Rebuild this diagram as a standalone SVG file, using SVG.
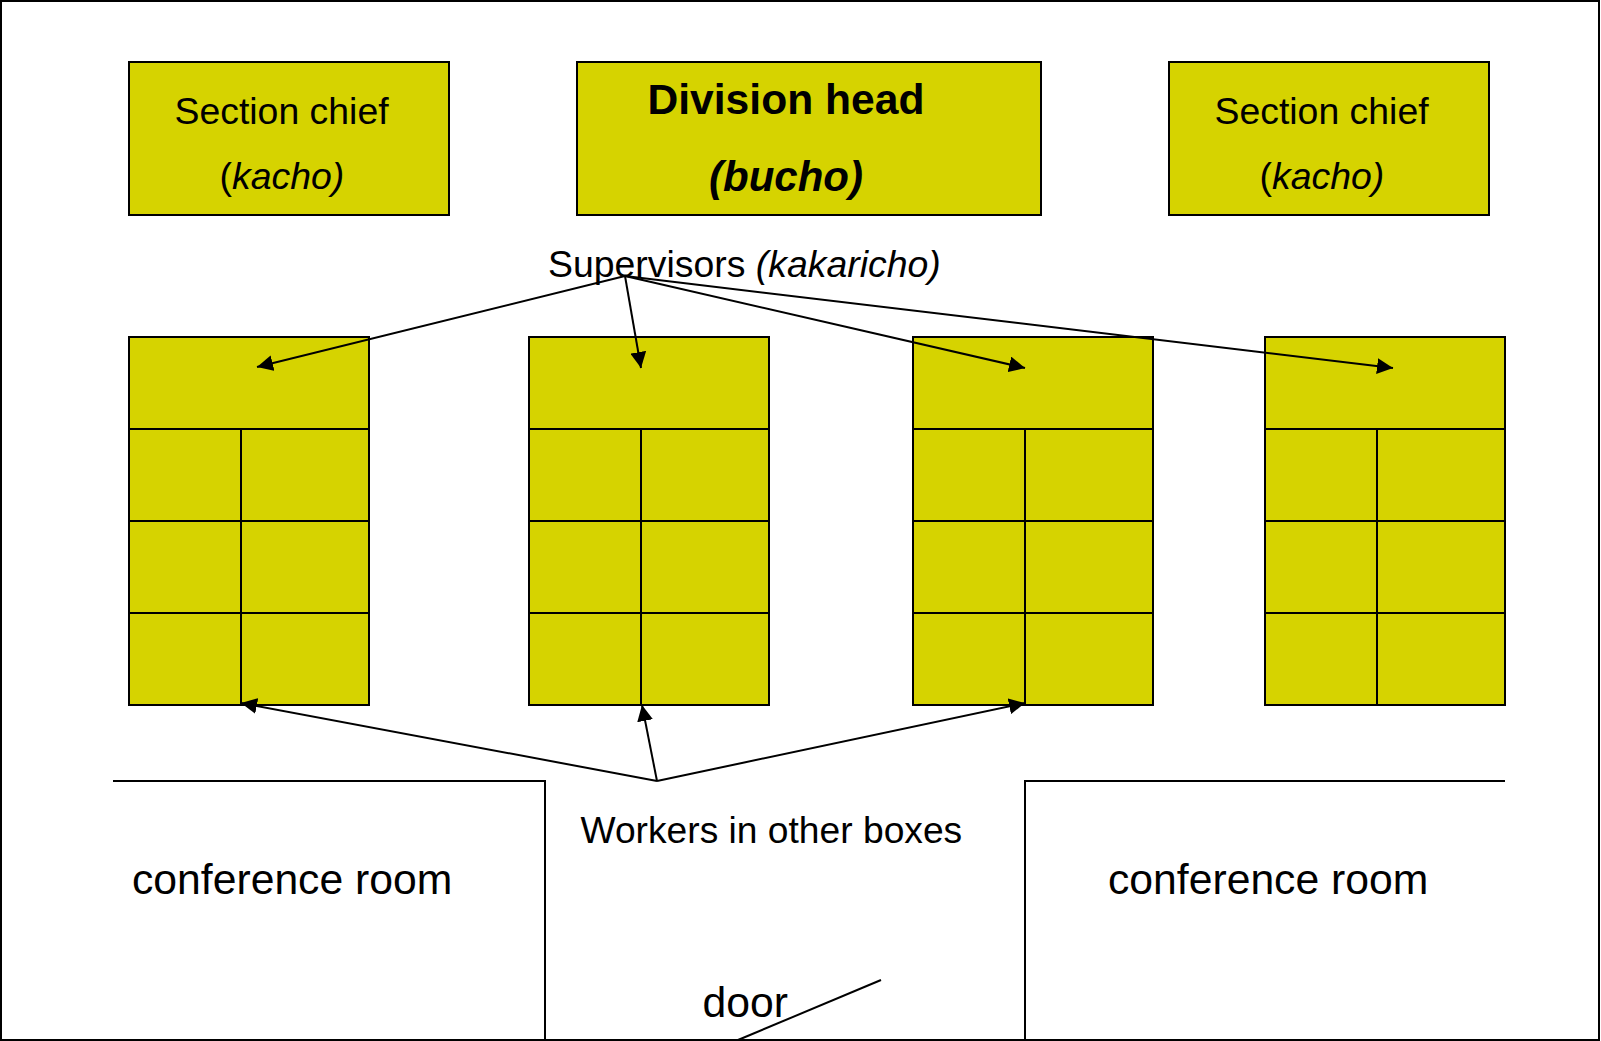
<svg xmlns="http://www.w3.org/2000/svg" width="1601" height="1041" viewBox="0 0 1601 1041">
<style>
.b{fill:#d6d300;stroke:#000;stroke-width:2}
.g{fill:none;stroke:#000;stroke-width:2}
.c{fill:none;stroke:#000;stroke-width:2}
text{font-family:"Liberation Sans",Arial,sans-serif;fill:#000}
.m{font-size:37.4px}
.l{font-size:42.7px}
.i{font-style:italic}
.h{font-weight:bold;font-size:42px}
</style>
<defs>
<marker id="a" markerUnits="userSpaceOnUse" markerWidth="17" markerHeight="16" viewBox="0 0 17 16" refX="16" refY="8" orient="auto"><path d="M0 0L16 8L0 16z" fill="#000"/></marker>
<path id="cells" class="g" d="M0 92H240M0 184H240M0 276H240M112 92V368"/>
</defs>
<rect id="frame" x="1" y="1" width="1598" height="1039" fill="#fff" stroke="#000" stroke-width="2"/>
<g id="section-chief-left"><rect class="b" x="129" y="62" width="320" height="153"/><text class="m" x="174.5" y="124">Section chief</text><text class="m" x="219.5" y="189">(<tspan class="i">kacho)</tspan></text></g>
<g id="division-head"><rect class="b" x="577" y="62" width="464" height="153"/><text class="h" x="647.5" y="114" font-size="42.6" style="font-size:42.6px">Division head</text><text class="h i" x="709" y="191">(bucho)</text></g>
<g id="section-chief-right"><rect class="b" x="1169" y="62" width="320" height="153"/><text class="m" x="1214.5" y="124">Section chief</text><text class="m" x="1259.5" y="189">(<tspan class="i">kacho)</tspan></text></g>
<g id="supervisors"><text class="m" x="548" y="277">Supervisors <tspan class="i">(kakaricho)</tspan></text></g>
<g id="block-1" transform="translate(129 337)"><rect class="b" width="240" height="368"/><use href="#cells"/></g>
<g id="block-2" transform="translate(529 337)"><rect class="b" width="240" height="368"/><use href="#cells"/></g>
<g id="block-3" transform="translate(913 337)"><rect class="b" width="240" height="368"/><use href="#cells"/></g>
<g id="block-4" transform="translate(1265 337)"><rect class="b" width="240" height="368"/><use href="#cells"/></g>
<g id="room-left"><path class="c" d="M113 781H545V1040"/><text class="l" x="132" y="894">conference room</text></g>
<g id="room-right"><path class="c" d="M1505 781H1025V1040"/><text class="l" x="1108" y="894">conference room</text></g>
<g id="workers"><text class="m" x="580.5" y="843" style="font-size:37.2px">Workers in other boxes</text></g>
<g id="door"><text class="l" x="702.5" y="1017">door</text><path class="c" d="M881 980L738 1040"/></g>
<g id="connectors" class="c">
<line x1="625" y1="276" x2="257" y2="367" marker-end="url(#a)"/>
<line x1="625" y1="276" x2="641" y2="368" marker-end="url(#a)"/>
<line x1="625" y1="276" x2="1025" y2="368" marker-end="url(#a)"/>
<line x1="625" y1="276" x2="1393" y2="368" marker-end="url(#a)"/>
<line x1="657" y1="781" x2="241" y2="703" marker-end="url(#a)"/>
<line x1="657" y1="781" x2="642" y2="705" marker-end="url(#a)"/>
<line x1="657" y1="781" x2="1025" y2="703" marker-end="url(#a)"/>
</g>
</svg>
